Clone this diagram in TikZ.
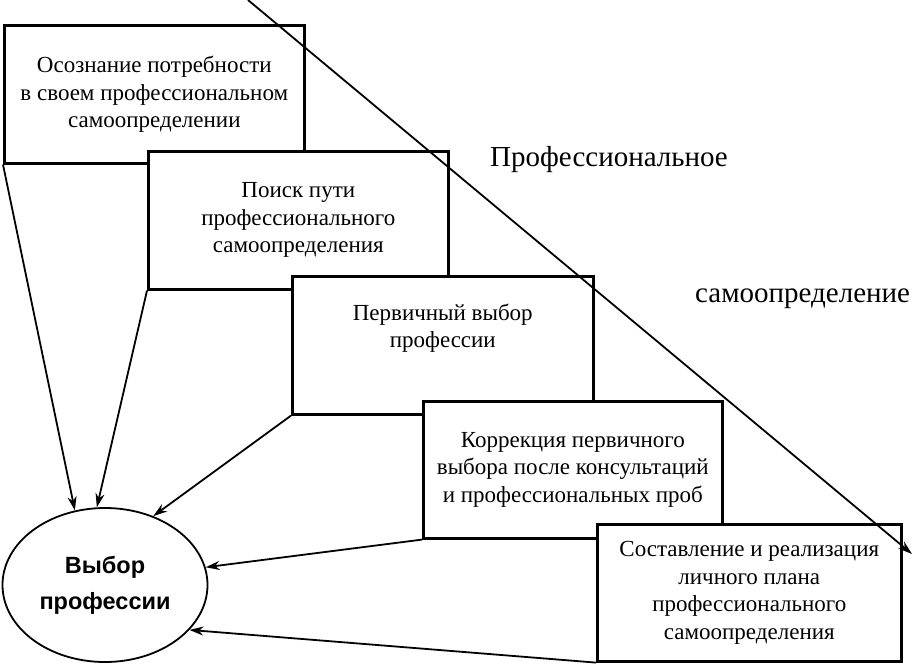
\documentclass[tikz,border=0pt]{standalone}
\usepackage{fontspec}
\setmainfont{Liberation Serif}
\newfontfamily\arialfont{Liberation Sans}
\usetikzlibrary{arrows.meta,shapes.geometric}
\tikzset{
  x=1pt, y=-1pt,
  stagebox/.style={draw=black, line width=2.6pt, fill=white, anchor=north west,
    align=center, inner sep=0pt, font=\fontsize{23}{27.5}\selectfont},
  conn/.style={line width=1.8pt, -{Stealth[length=14pt,width=9pt]}},
}
\begin{document}
\begin{tikzpicture}
\useasboundingbox (0,0) rectangle (915,664);
\node[stagebox, minimum width=300pt, minimum height=138pt] (b1) at (3,24)
  {Осознание потребности\\в своем профессиональном\\самоопределении};
\node[stagebox, minimum width=300pt, minimum height=138pt] (b2) at (147,150)
  {Поиск пути\\профессионального\\самоопределения};
\node[stagebox, minimum width=301pt, minimum height=138pt] (b3) at (291,275)
  {Первичный выбор\\профессии\\[12pt]\mbox{}};
\node[stagebox, minimum width=299pt, minimum height=137pt] (b4) at (422,400)
  {Коррекция первичного\\выбора после консультаций\\и профессиональных проб};
\node[stagebox, minimum width=304pt, minimum height=137pt] (b5) at (596,523)
  {Составление и реализация\\личного плана\\профессионального\\самоопределения};
\node[draw=black, line width=1.8pt, ellipse, minimum width=205pt, minimum height=154pt,
  inner sep=0pt, align=center, font=\arialfont\bfseries\fontsize{23.5}{36}\selectfont]
  (goal) at (105,585) {Выбор\\профессии};
\coordinate (dtop) at (248,0);
\coordinate (dend) at (912,554);
\draw[conn] (dtop) -- (dend);
\node[font=\fontsize{29}{32}\selectfont, anchor=west, inner sep=0pt] (t1) at (490,160) {Профессиональное};
\node[font=\fontsize{29}{32}\selectfont, anchor=west, inner sep=0pt] (t2) at (695,299) {самоопределение};
\draw[conn] (b1.south west) -- (goal.112);
\draw[conn] (b2.south west) -- (goal.96);
\draw[conn] (b3.south west) -- (goal.55);
\draw[conn] (b4.south west) -- (goal.10);
\draw[conn] (b5.south west) -- (goal.-28);
\end{tikzpicture}
\end{document}
